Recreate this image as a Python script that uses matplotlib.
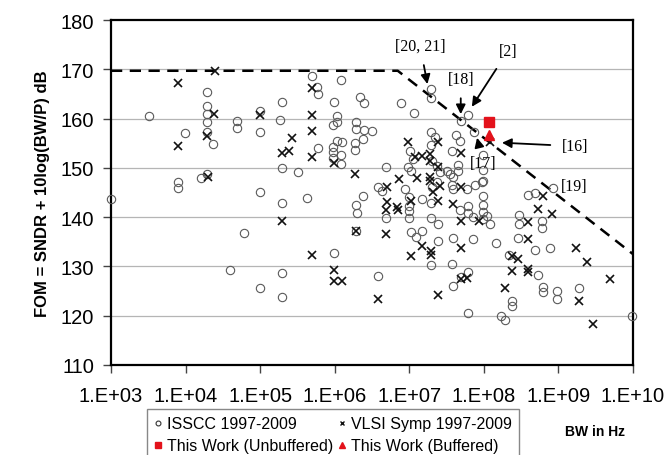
import matplotlib
matplotlib.use("Agg")
import matplotlib.pyplot as plt
from matplotlib.lines import Line2D

# ---------------- data ----------------
isscc_bw = [1.0e3, 3.2e3, 7.9e3, 7.9e3, 9.8e3, 1.6e4, 1.95e4, 1.95e4, 1.95e4, 1.95e4,
            1.95e4, 1.95e4, 2.35e4, 4.9e4, 4.9e4, 6.0e4, 4.0e4, 1.0e5, 1.0e5, 1.0e5,
            1.0e5, 1.95e5, 1.86e5, 1.95e5, 1.95e5, 1.95e5, 1.95e5, 3.2e5, 4.3e5, 4.9e5,
            5.75e5, 5.9e5, 5.9e5, 1.2e6, 9.8e5, 1.07e6, 1.07e6, 9.5e5, 1.07e6, 1.26e6,
            9.5e5, 9.5e5, 1.2e6, 9.5e5, 1.2e6, 9.8e5, 2.2e6, 2.45e6, 1.9e6, 1.9e6,
            2.45e6, 3.16e6, 1.86e6, 2.4e6, 1.86e6, 2.4e6, 3.8e6, 4.27e6, 1.9e6, 2.0e6,
            1.9e6, 3.8e6, 7.8e6, 1.15e7, 1.95e7, 1.95e7, 6.2e7, 4.9e7, 7.4e7, 4.2e7,
            4.8e7, 1.95e7, 2.2e7, 1.95e7, 1.02e7, 1.12e7, 9.5e6, 1.07e7, 4.9e6, 3.7e7,
            4.47e7, 4.47e7, 9.8e7, 9.8e7, 2.0e7, 2.35e7, 2.57e7, 3.16e7, 3.8e7, 3.47e7,
            2.35e7, 2.0e7, 3.7e7, 3.8e7, 5.9e7, 7.6e7, 9.3e7, 8.7e6, 1.48e7, 1.0e7,
            1.0e7, 1.0e7, 1.0e7, 4.9e6, 1.95e7, 1.95e7, 2.4e7, 4.8e7, 6.2e7, 6.2e7,
            7.1e7, 9.8e7, 9.8e7, 9.8e7, 1.1e8, 1.2e8, 9.8e7, 1.07e7, 1.23e7, 1.48e7,
            2.4e7, 1.95e7, 3.8e7, 7.1e7, 3.7e7, 6.2e7, 4.9e7, 3.8e7, 6.2e7, 1.45e8,
            2.95e8, 2.95e8, 2.9e8, 3.9e8, 4.8e8, 8.5e8, 6.0e8, 6.0e8, 4.8e8, 7.6e8,
            2.2e8, 5.25e8, 6.2e8, 6.3e8, 9.5e8, 9.5e8, 1.86e9, 2.4e8, 2.4e8, 1.7e8,
            1.95e8, 9.6e9, 9.8e7]
isscc_fom = [143.7, 160.5, 147.1, 145.9, 157.1, 148.0, 148.8, 165.4, 162.6, 160.9,
             159.3, 157.3, 154.8, 159.5, 158.1, 136.8, 129.3, 161.5, 157.3, 145.1,
             125.6, 163.4, 159.7, 150.0, 142.9, 128.7, 123.8, 149.2, 143.9, 168.6,
             166.4, 165.0, 154.0, 167.8, 163.4, 160.5, 159.3, 158.7, 155.5, 155.3,
             154.2, 153.2, 152.6, 152.0, 150.8, 132.7, 164.4, 163.2, 159.3, 157.9,
             157.7, 157.5, 155.1, 155.9, 153.6, 144.3, 146.1, 145.3, 142.5, 140.9,
             137.2, 128.1, 163.2, 161.1, 166.0, 164.2, 160.7, 159.5, 157.3, 156.7,
             155.5, 157.3, 156.3, 154.7, 153.4, 151.8, 150.2, 149.4, 150.2, 153.4,
             150.6, 149.4, 152.6, 149.6, 151.4, 150.4, 149.2, 149.4, 148.2, 148.8,
             147.1, 146.1, 146.5, 145.7, 145.7, 146.5, 147.1, 145.7, 143.7, 144.1,
             142.3, 141.3, 139.8, 139.8, 142.9, 139.8, 138.6, 141.5, 142.3, 140.9,
             140.0, 144.3, 142.5, 141.1, 140.2, 138.6, 147.3, 137.0, 136.0, 137.2,
             135.2, 130.3, 135.8, 135.6, 130.5, 128.9, 127.9, 126.0, 120.6, 134.8,
             140.4, 138.6, 135.8, 144.5, 144.9, 145.9, 139.2, 137.8, 133.3, 133.8,
             132.3, 128.3, 125.8, 124.8, 125.0, 123.4, 125.6, 123.0, 122.0, 120.0,
             119.2, 120.0, 139.6]

vlsi_bw = [7.9e3, 2.45e4, 2.4e4, 1.95e4, 7.9e3, 2.0e4, 1.0e5, 2.7e5, 1.95e5, 2.45e5,
           1.95e5, 4.9e5, 4.9e5, 4.9e5, 4.9e5, 4.9e5, 9.8e5, 9.8e5, 9.8e5, 1.26e6,
           1.86e6, 1.9e6, 3.8e6, 9.5e6, 5.0e6, 5.0e6, 4.9e6, 7.1e6, 4.9e6, 7.2e6,
           1.26e7, 1.9e7, 1.9e7, 2.1e7, 1.2e7, 1.48e7, 1.9e7, 1.9e7, 2.4e7, 2.4e7,
           4.9e7, 4.9e7, 1.07e7, 6.8e6, 2.4e7, 3.8e7, 4.9e7, 8.5e7, 1.48e7, 1.07e7,
           1.95e7, 1.95e7, 4.9e7, 4.9e7, 5.9e7, 2.4e7, 1.2e8, 6.3e8, 5.25e8, 8.3e8,
           3.9e8, 3.9e8, 1.7e9, 2.4e9, 2.4e8, 2.9e8, 2.4e8, 3.9e8, 3.9e8, 1.9e8,
           1.86e9, 4.9e9, 2.9e9, 2.57e7]
vlsi_fom = [167.2, 169.7, 160.9, 156.5, 154.4, 148.2, 160.7, 156.1, 153.0, 153.4,
            139.2, 166.2, 160.7, 157.5, 152.2, 132.3, 151.0, 129.3, 127.1, 127.1,
            148.8, 137.2, 123.4, 155.3, 146.1, 143.1, 141.5, 141.5, 136.6, 147.8,
            148.0, 148.2, 147.4, 145.1, 152.2, 152.4, 152.8, 151.4, 155.3, 150.2,
            153.0, 146.1, 143.3, 142.1, 143.3, 142.7, 139.2, 139.2, 134.2, 132.1,
            133.1, 132.3, 133.8, 127.5, 127.7, 124.2, 155.3, 144.3, 141.7, 140.6,
            139.0, 135.6, 133.8, 130.9, 132.1, 131.5, 129.1, 129.5, 128.9, 125.6,
            123.0, 127.5, 118.3, 146.3]

work_bw = [1.17e8]
work_unbuffered_fom = [159.3]
work_buffered_fom = [156.7]

# limit line (flat, then sloped)
limit_bw = [1.0e3, 7.0e6, 1.0e10]
limit_fom = [169.7, 169.7, 132.5]

x_ticks = [1e3, 1e4, 1e5, 1e6, 1e7, 1e8, 1e9, 1e10]
x_tick_labels = ["1.E+03", "1.E+04", "1.E+05", "1.E+06", "1.E+07", "1.E+08", "1.E+09", "1.E+10"]
y_ticks = [110, 120, 130, 140, 150, 160, 170, 180]

# (label, text position, arrow tip) in data units
annotations = [
    ("[20, 21]", (1.4e7, 174.7), (1.75e7, 167.0)),
    ("[2]", (2.1e8, 173.7), (6.9e7, 162.4)),
    ("[18]", (4.9e7, 168.0), (4.9e7, 160.9)),
    ("[16]", (1.65e9, 154.4), (1.75e8, 155.1)),
    ("[17]", (9.8e7, 151.0), (8.1e7, 156.1)),
    ("[19]", (1.65e9, 146.3), None),
]

# ---------------- figure ----------------
plt.rcParams['font.family'] = ['Liberation Sans', 'DejaVu Sans']
fig = plt.figure(figsize=(6.65, 4.56), dpi=100)
ax = fig.add_axes([111/665, 1-366/456, (633-111)/665, (366-21)/456])

ax.set_xscale('log')
ax.set_xlim(1e3, 1e10)
ax.set_ylim(110, 180)

for y in y_ticks[1:-1]:
    ax.axhline(y, color='#b5b5b5', lw=0.9, zorder=0)

ax.plot(limit_bw, limit_fom, ls=(0, (4.5, 3)), color='black', lw=1.8, zorder=2)

ax.plot(isscc_bw, isscc_fom, ls='none', marker='o', ms=6, mfc='none',
        mec='#5a5a5a', mew=0.8, zorder=3, clip_on=False)
ax.plot(vlsi_bw, vlsi_fom, ls='none', marker='x', ms=5.5, color='#111111',
        mew=1.2, zorder=4, clip_on=False)
ax.plot(work_bw, work_unbuffered_fom, ls='none', marker='s', ms=7, color='#e3121b', zorder=5)
ax.plot(work_bw, work_buffered_fom, ls='none', marker='^', ms=7, color='#e3121b', zorder=5)

for label, txt, tip in annotations:
    if tip is None:
        ax.text(txt[0], txt[1], label, ha='center', va='center',
                family=['Liberation Serif', 'DejaVu Serif'], fontsize=11.5)
    else:
        ax.annotate(label, xy=tip, xytext=txt, ha='center', va='center',
                    family=['Liberation Serif', 'DejaVu Serif'], fontsize=11.5,
                    arrowprops=dict(arrowstyle='-|>', color='black', lw=1.3,
                                    mutation_scale=14, shrinkA=6, shrinkB=0))

ax.set_xticks(x_ticks)
ax.set_xticklabels(x_tick_labels)
ax.xaxis.set_minor_locator(matplotlib.ticker.NullLocator())
ax.set_yticks(y_ticks)
ax.tick_params(axis='both', direction='out', length=6, width=1.0, labelsize=14.5,
               color='#444444')
ax.tick_params(axis='x', pad=9)
ax.tick_params(axis='y', pad=6)

for s in ax.spines.values():
    s.set_color('black')
    s.set_linewidth(1.6)

ax.set_ylabel("FOM = SNDR + 10log(BW/P) dB", fontsize=12, fontweight='bold', labelpad=8)

fig.text(595/665, 1-432/456, "BW in Hz", fontsize=10, fontweight='bold',
         ha='center', va='center')

handles = [
    Line2D([], [], ls='none', marker='o', ms=3.5, mfc='none', mec='#333333', mew=0.8),
    Line2D([], [], ls='none', marker='s', ms=4.5, color='#e3121b'),
    Line2D([], [], ls='none', marker='x', ms=3.5, color='#111111', mew=1.0),
    Line2D([], [], ls='none', marker='^', ms=5, color='#e3121b'),
]
labels = ["ISSCC 1997-2009", "This Work (Unbuffered)",
          "VLSI Symp 1997-2009", "This Work (Buffered)"]
leg = fig.legend(handles, labels, ncol=2, loc='upper left',
                 bbox_to_anchor=(147/665, 1-410/456), fontsize=11.5,
                 frameon=True, fancybox=False, framealpha=1, edgecolor='#888888',
                 handlelength=0.5, handletextpad=0.3, columnspacing=0.3,
                 borderpad=0.45, labelspacing=0.45, borderaxespad=0)
leg.get_frame().set_linewidth(1.0)

fig.savefig("out.png", dpi=100)
